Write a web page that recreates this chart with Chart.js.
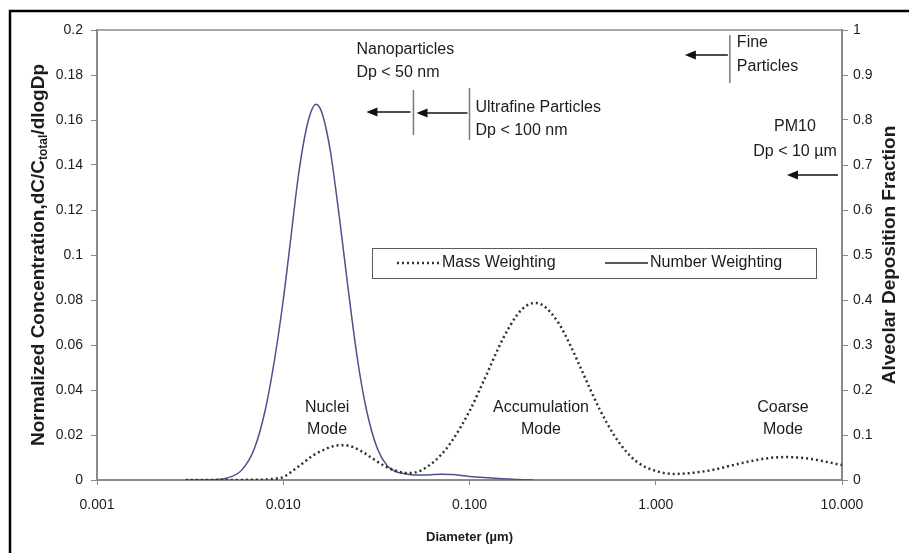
<!DOCTYPE html>
<html>
<head>
<meta charset="utf-8">
<title>Particle size distribution</title>
<script src="https://cdn.jsdelivr.net/npm/chart.js@4.4.1/dist/chart.umd.min.js"></script>
<style>
  html, body { margin: 0; padding: 0; background: #fff; }
  #wrap { width: 909px; height: 553px; position: relative; }
</style>
</head>
<body>
<div id="wrap"><canvas id="sizeChart" width="909" height="553"></canvas></div>
<script>
// Number weighted distribution, diameter in µm
const numberDiameters = [0.003, 0.004, 0.005, 0.006, 0.007, 0.008, 0.009, 0.010, 0.011, 0.012, 0.013, 0.014,
  0.015, 0.016, 0.017, 0.018, 0.020, 0.022, 0.025, 0.028, 0.032, 0.036, 0.040, 0.045, 0.050, 0.060,
  0.070, 0.080, 0.100, 0.120, 0.150, 0.185, 0.220];
const numberValues = [0, 0.0001, 0.0009, 0.0045, 0.014, 0.031, 0.054, 0.080, 0.108, 0.134, 0.152, 0.163,
  0.167, 0.164, 0.156, 0.145, 0.117, 0.089, 0.054, 0.031, 0.014, 0.0065, 0.0038, 0.0028, 0.0022, 0.0022,
  0.0026, 0.0024, 0.0016, 0.0011, 0.0006, 0.0002, 0];

// Mass weighted distribution
const massDiameters = [0.003, 0.005, 0.007, 0.008, 0.009, 0.010, 0.0113, 0.0128, 0.0145, 0.0164, 0.0185,
  0.021, 0.0236, 0.0268, 0.031, 0.035, 0.040, 0.046, 0.052, 0.060, 0.070, 0.080, 0.100, 0.120, 0.150,
  0.180, 0.200, 0.225, 0.250, 0.300, 0.350, 0.400, 0.500, 0.600, 0.700, 0.800, 1.000, 1.250, 1.500,
  2.000, 2.500, 3.000, 4.000, 5.000, 6.000, 7.000, 8.000, 10.000];
const massValues = [0, 0, 0.0001, 0.0002, 0.0006, 0.0013, 0.0042, 0.0076, 0.011, 0.0133, 0.015,
  0.0155, 0.0147, 0.0124, 0.0089, 0.0062, 0.0042, 0.0031, 0.0035, 0.0062, 0.011, 0.017, 0.0306, 0.0446, 0.0622,
  0.0733, 0.0772, 0.0787, 0.0774, 0.0699, 0.0594, 0.0488, 0.0314, 0.0197, 0.0123, 0.0078, 0.0040, 0.0027, 0.0030,
  0.0044, 0.0063, 0.0078, 0.0097, 0.0102, 0.0099, 0.0092, 0.0083, 0.0066];

const diameterTicks = [0.001, 0.01, 0.1, 1, 10];
const diameterTickLabels = ['0.001', '0.010', '0.100', '1.000', '10.000'];

// size class limits (µm)
const nanoLimit = 0.05;
const ultrafineLimit = 0.1;
const fineLimit = 2.5;
const pm10Limit = 10;

const modeLabels = [
  { dp: 0.0172, lines: ['Nuclei', 'Mode'] },
  { dp: 0.242, lines: ['Accumulation', 'Mode'] },
  { dp: 4.82, lines: ['Coarse', 'Mode'] }
];

const FONT = "'Liberation Sans', Arial, sans-serif";
const TEXT = '#1c1c1c';
const AXIS = '#8a8a8a';
const NUMBER_COLOR = '#4f4f8e';
const MASS_COLOR = '#1f3a1f';
const MASS_DASH = [2, 3];

function toPoints(xs, ys) {
    return xs.map((x, i) => ({ x: x, y: ys[i] }));
}

function arrowLeft(ctx, xTail, xTip, y) {
    ctx.beginPath();
    ctx.moveTo(xTail, y);
    ctx.lineTo(xTip + 8, y);
    ctx.stroke();
    ctx.beginPath();
    ctx.moveTo(xTip, y);
    ctx.lineTo(xTip + 11, y - 4.5);
    ctx.lineTo(xTip + 11, y + 4.5);
    ctx.closePath();
    ctx.fill();
}

function textLines(ctx, lines, x, y, gap) {
    lines.forEach((t, i) => ctx.fillText(t, x, y + i * gap));
}

// frame, axis titles, size class markers, mode labels and legend
const decorations = {
    id: 'decorations',
    afterDatasetsDraw(chart) {
        const ctx = chart.ctx;
        const area = chart.chartArea;
        const xs = chart.scales.x;
        const ys = chart.scales.y;
        const top = area.top;
        const midY = (area.top + area.bottom) / 2;

        ctx.save();

        // top edge of the plot area
        ctx.strokeStyle = AXIS;
        ctx.lineWidth = 1.5;
        ctx.beginPath();
        ctx.moveTo(area.left, top);
        ctx.lineTo(area.right, top);
        ctx.stroke();

        // outer frame (top and left edges)
        ctx.strokeStyle = '#000';
        ctx.lineWidth = 2.5;
        ctx.beginPath();
        ctx.moveTo(10, 553);
        ctx.lineTo(10, 11);
        ctx.lineTo(909, 11);
        ctx.stroke();

        ctx.fillStyle = TEXT;
        ctx.textBaseline = 'middle';

        // x axis title
        ctx.font = 'bold 13px ' + FONT;
        ctx.textAlign = 'center';
        ctx.fillText('Diameter (µm)', (area.left + area.right) / 2, 537);

        // left axis title with subscript
        ctx.save();
        ctx.translate(39, midY);
        ctx.rotate(-Math.PI / 2);
        const big = 'bold 19px ' + FONT;
        const small = 'bold 12px ' + FONT;
        const parts = [['Normalized Concentration,dC/C', big, 0], ['total', small, 5], ['/dlogDp', big, 0]];
        let total = 0;
        parts.forEach(p => { ctx.font = p[1]; total += ctx.measureText(p[0]).width; });
        let cx = -total / 2;
        ctx.textAlign = 'left';
        parts.forEach(p => {
            ctx.font = p[1];
            ctx.fillText(p[0], cx, p[2]);
            cx += ctx.measureText(p[0]).width;
        });
        ctx.restore();

        // right axis title
        ctx.save();
        ctx.translate(890, midY);
        ctx.rotate(-Math.PI / 2);
        ctx.font = 'bold 19px ' + FONT;
        ctx.textAlign = 'center';
        ctx.fillText('Alveolar Deposition Fraction', 0, 0);
        ctx.restore();

        // size class limits
        const xNano = xs.getPixelForValue(nanoLimit);
        const xUltra = xs.getPixelForValue(ultrafineLimit);
        const xFine = xs.getPixelForValue(fineLimit);
        const xPm10 = xs.getPixelForValue(pm10Limit);

        ctx.strokeStyle = '#7a7a7a';
        ctx.lineWidth = 1.5;
        [[xNano, 60, 105], [xUltra, 58, 110], [xFine, 5, 53]].forEach(l => {
            ctx.beginPath();
            ctx.moveTo(l[0], top + l[1]);
            ctx.lineTo(l[0], top + l[2]);
            ctx.stroke();
        });

        ctx.strokeStyle = '#111';
        ctx.fillStyle = '#111';
        ctx.lineWidth = 1.3;
        arrowLeft(ctx, xNano - 3, xNano - 47, top + 82);
        arrowLeft(ctx, xUltra - 2, xUltra - 53, top + 83);
        arrowLeft(ctx, xFine - 2, xFine - 45, top + 25);
        arrowLeft(ctx, xPm10 - 4, xPm10 - 55, top + 145);

        ctx.fillStyle = TEXT;
        ctx.font = '16px ' + FONT;
        ctx.textAlign = 'left';
        textLines(ctx, ['Nanoparticles', 'Dp < 50 nm'], xNano - 57, top + 20, 23);
        textLines(ctx, ['Ultrafine Particles', 'Dp < 100 nm'], xUltra + 6, top + 78, 23);
        textLines(ctx, ['Fine', 'Particles'], xFine + 7, top + 13, 24);
        ctx.textAlign = 'center';
        textLines(ctx, ['PM10', 'Dp < 10 µm'], xPm10 - 47, top + 97, 25);

        // mode labels
        modeLabels.forEach(m => {
            textLines(ctx, m.lines, xs.getPixelForValue(m.dp), ys.getPixelForValue(0.032), 22);
        });

        // legend
        const lx = 372, ly = 248, lw = 444, lh = 30;
        ctx.fillStyle = '#fff';
        ctx.fillRect(lx, ly, lw, lh);
        ctx.strokeStyle = '#5a5a5a';
        ctx.lineWidth = 1;
        ctx.strokeRect(lx + 0.5, ly + 0.5, lw, lh);
        const my = ly + lh / 2;
        ctx.lineWidth = 2.5;
        ctx.strokeStyle = MASS_COLOR;
        ctx.setLineDash(MASS_DASH);
        ctx.beginPath();
        ctx.moveTo(397, my);
        ctx.lineTo(440, my);
        ctx.stroke();
        ctx.setLineDash([]);
        ctx.lineWidth = 1.5;
        ctx.strokeStyle = '#222';
        ctx.beginPath();
        ctx.moveTo(605, my);
        ctx.lineTo(648, my);
        ctx.stroke();
        ctx.fillStyle = TEXT;
        ctx.font = '16px ' + FONT;
        ctx.textAlign = 'left';
        ctx.fillText('Mass Weighting', 442, my);
        ctx.fillText('Number Weighting', 650, my);

        ctx.restore();
    }
};

const tickFont = { family: FONT, size: 14 };

new Chart(document.getElementById('sizeChart').getContext('2d'), {
    type: 'line',
    data: {
        datasets: [{
            label: 'Mass Weighting',
            data: toPoints(massDiameters, massValues),
            borderColor: MASS_COLOR,
            borderWidth: 2.5,
            borderDash: MASS_DASH,
            pointRadius: 0,
            cubicInterpolationMode: 'monotone',
            fill: false
        }, {
            label: 'Number Weighting',
            data: toPoints(numberDiameters, numberValues),
            borderColor: NUMBER_COLOR,
            borderWidth: 1.5,
            pointRadius: 0,
            cubicInterpolationMode: 'monotone',
            fill: false
        }]
    },
    options: {
        responsive: false,
        animation: false,
        layout: { padding: { top: 30, left: 0, right: 0, bottom: 0 } },
        scales: {
            x: {
                type: 'logarithmic',
                min: 0.001,
                max: 10,
                afterBuildTicks: axis => {
                    axis.ticks = diameterTicks.map(v => ({ value: v }));
                },
                afterFit: scale => { scale.height = 73; },
                ticks: {
                    color: TEXT,
                    font: tickFont,
                    padding: 12,
                    maxRotation: 0,
                    autoSkip: false,
                    callback: (value, index) => diameterTickLabels[index]
                },
                grid: { drawOnChartArea: false, drawTicks: true, tickLength: 5, color: AXIS },
                border: { display: true, color: AXIS, width: 2 }
            },
            y: {
                min: 0,
                max: 0.2,
                afterFit: scale => { scale.width = 97; },
                ticks: {
                    stepSize: 0.02,
                    color: TEXT,
                    font: tickFont,
                    padding: 8,
                    callback: v => String(+v.toFixed(2))
                },
                grid: { drawOnChartArea: false, drawTicks: true, tickLength: 6, color: AXIS },
                border: { display: true, color: AXIS, width: 2 }
            },
            y2: {
                position: 'right',
                min: 0,
                max: 1,
                afterFit: scale => { scale.width = 67; },
                ticks: {
                    stepSize: 0.1,
                    color: TEXT,
                    font: tickFont,
                    padding: 5,
                    callback: v => String(+v.toFixed(1))
                },
                grid: { drawOnChartArea: false, drawTicks: true, tickLength: 6, color: AXIS },
                border: { display: true, color: AXIS, width: 2 }
            }
        },
        plugins: {
            legend: { display: false },
            tooltip: { enabled: false }
        }
    },
    plugins: [decorations]
});
</script>
</body>
</html>
